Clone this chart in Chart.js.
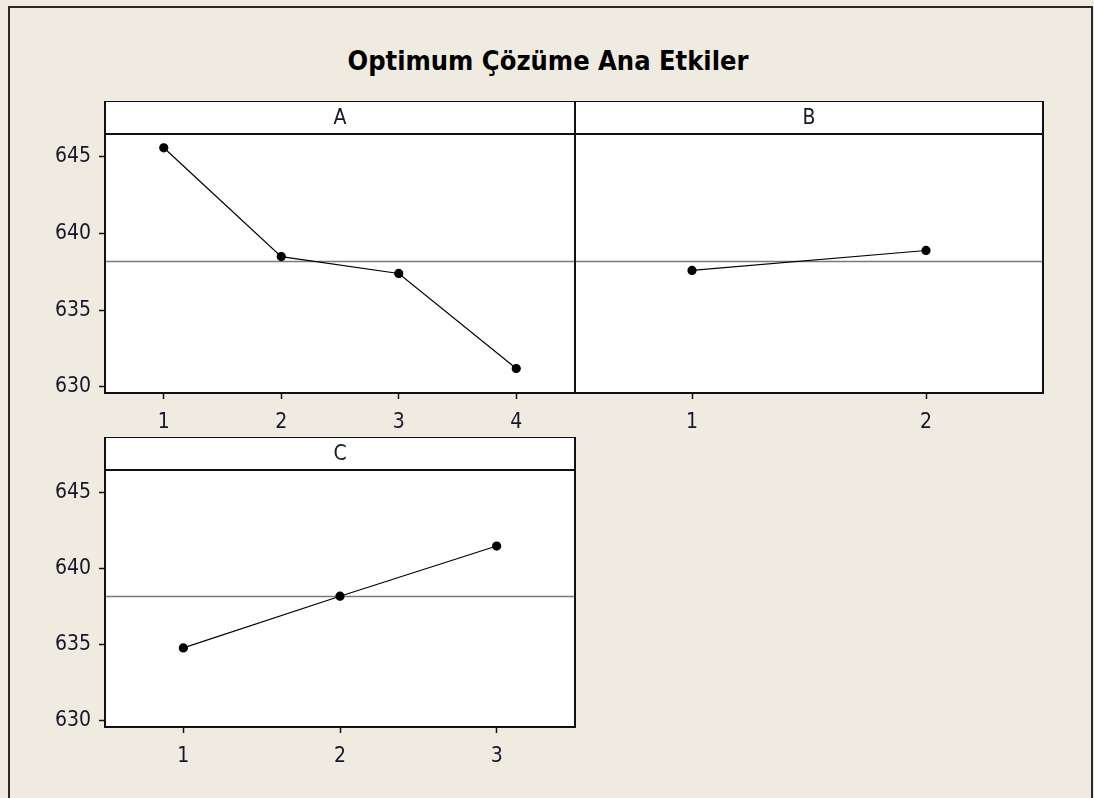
<!DOCTYPE html>
<html>
<head>
<meta charset="utf-8">
<script src="https://cdn.jsdelivr.net/npm/chart.js@4"></script>
<style>
  html, body { margin: 0; padding: 0; background: #efebe1; }
  body { width: 1094px; height: 798px; position: relative; overflow: hidden; }
  .frame {
    position: absolute; left: 8px; top: 6px; width: 1085px; height: 820px;
    border: 2px solid #2a2a2a; box-sizing: border-box;
  }
  .title {
    position: absolute; left: 0; top: 45px; width: 1096px; text-align: center;
    font-family: "DejaVu Sans Condensed", "DejaVu Sans", sans-serif;
    font-weight: bold; font-size: 27px; color: #000;
  }
  .panel { position: absolute; }
</style>
</head>
<body>
<div class="frame"></div>
<div class="title">Optimum Çözüme Ana Etkiler</div>
<div class="panel" style="left:0px;top:101px;width:600px;height:340px"><canvas id="chartA" width="600" height="340"></canvas></div>
<div class="panel" style="left:560px;top:101px;width:500px;height:340px"><canvas id="chartB" width="500" height="340"></canvas></div>
<div class="panel" style="left:0px;top:437px;width:600px;height:340px"><canvas id="chartC" width="600" height="340"></canvas></div>
<script>
// Main effects data (level means)
const levelsA = [1, 2, 3, 4];
const meansA = [645.6, 638.5, 637.4, 631.2];

const levelsB = [1, 2];
const meansB = [637.6, 638.9];

const levelsC = [1, 2, 3];
const meansC = [634.8, 638.2, 641.5];

const yTicks = [630, 635, 640, 645];
const yMin = 629.6;
const yMax = 646.5;

// grand mean = average of any factor's level means
const grandMean = meansA.reduce((s, v) => s + v, 0) / meansA.length;

const FONT = '"DejaVu Sans Condensed", "DejaVu Sans", sans-serif';
const TEXT_COLOR = '#161628';
const STRIP_H = 33;

// white plot area, mean line, panel box and header strip
const panelPlugin = {
  id: 'panelBox',
  beforeDraw(chart) {
    const { ctx, chartArea } = chart;
    ctx.save();
    ctx.fillStyle = '#fff';
    ctx.fillRect(chartArea.left, chartArea.top, chartArea.right - chartArea.left, chartArea.bottom - chartArea.top);
    ctx.restore();
  },
  beforeDatasetsDraw(chart) {
    const { ctx, chartArea, scales } = chart;
    const y = scales.y.getPixelForValue(grandMean);
    ctx.save();
    ctx.strokeStyle = '#7a7a7a';
    ctx.lineWidth = 1.5;
    ctx.beginPath();
    ctx.moveTo(chartArea.left, y);
    ctx.lineTo(chartArea.right, y);
    ctx.stroke();
    ctx.restore();
  },
  afterDraw(chart, args, opts) {
    const { ctx, chartArea } = chart;
    const { left, right, top, bottom } = chartArea;
    ctx.save();
    ctx.fillStyle = '#fff';
    ctx.fillRect(left, top - STRIP_H, right - left, STRIP_H);
    ctx.strokeStyle = '#111';
    ctx.lineWidth = 2;
    ctx.strokeRect(left, top - STRIP_H, right - left, STRIP_H);
    ctx.strokeRect(left, top, right - left, bottom - top);
    ctx.fillStyle = TEXT_COLOR;
    ctx.font = '21px ' + FONT;
    ctx.textAlign = 'center';
    ctx.textBaseline = 'middle';
    ctx.fillText(opts.label, (left + right) / 2, top - STRIP_H / 2 + 1);
    ctx.restore();
  }
};

function makePanel(canvasId, label, levels, means, showY, padding, xHeight) {
  const ctx = document.getElementById(canvasId).getContext('2d');
  return new Chart(ctx, {
    type: 'line',
    data: {
      datasets: [{
        data: levels.map((x, i) => ({ x: x, y: means[i] })),
        borderColor: '#000',
        borderWidth: 1.2,
        pointRadius: 4,
        pointBackgroundColor: '#000',
        pointBorderColor: '#000',
        tension: 0
      }]
    },
    options: {
      responsive: false,
      animation: false,
      layout: { padding: padding },
      plugins: {
        legend: { display: false },
        tooltip: { enabled: false },
        panelBox: { label: label }
      },
      scales: {
        x: {
          type: 'linear',
          min: 0.5,
          max: levels.length + 0.5,
          afterBuildTicks: s => { s.ticks = levels.map(v => ({ value: v })); },
          afterFit: s => { s.height = xHeight; },
          border: { display: false },
          grid: { drawOnChartArea: false, drawTicks: true, tickLength: 6, tickColor: '#111', tickWidth: 1.5 },
          ticks: { color: TEXT_COLOR, font: { family: FONT, size: 21 }, padding: 11 }
        },
        y: {
          display: showY,
          min: yMin,
          max: yMax,
          afterBuildTicks: s => { s.ticks = yTicks.map(v => ({ value: v })); },
          afterFit: s => { s.width = showY ? 105 : 0; },
          border: { display: false },
          grid: { drawOnChartArea: false, drawTicks: true, tickLength: 6, tickColor: '#111', tickWidth: 1.5 },
          ticks: { color: TEXT_COLOR, font: { family: FONT, size: 21 }, padding: 8 }
        }
      }
    },
    plugins: [panelPlugin]
  });
}

makePanel('chartA', 'A', levelsA, meansA, true, { top: STRIP_H, right: 25, left: 0, bottom: 0 }, 48);
makePanel('chartB', 'B', levelsB, meansB, false, { top: STRIP_H, right: 17, left: 15, bottom: 0 }, 48);
makePanel('chartC', 'C', levelsC, meansC, true, { top: STRIP_H, right: 25, left: 0, bottom: 0 }, 50);
</script>
</body>
</html>
